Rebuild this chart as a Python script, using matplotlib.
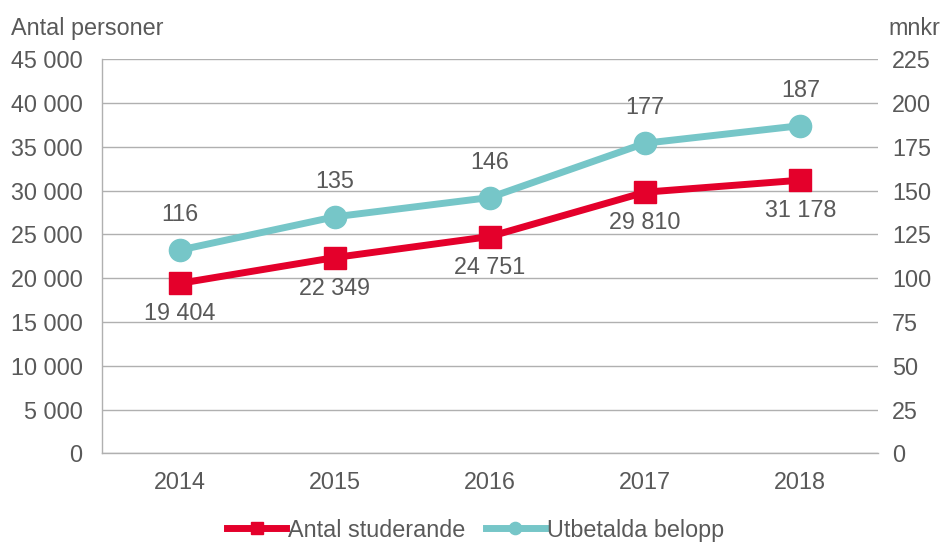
import matplotlib.pyplot as plt
from matplotlib.ticker import FuncFormatter

# Data
years = ['2014', '2015', '2016', '2017', '2018']
students = [19404, 22349, 24751, 29810, 31178]
paid_mnkr = [116, 135, 146, 177, 187]

RED = '#E4002B'
TEAL = '#76C6C8'
TEXT = '#595959'
GRID = '#B0B0B0'

plt.rcParams['font.family'] = ['Liberation Sans', 'DejaVu Sans']
FS = 16.8


def space_thousands(v, pos=None):
    return f'{int(v):,}'.replace(',', ' ')


fig = plt.figure(figsize=(9.42, 5.42), dpi=100)
ax = fig.add_axes([0.1083, 0.1635, 0.8237, 0.7275])
ax2 = ax.twinx()

x = range(len(years))

# Left axis: students
ax.set_ylim(0, 45000)
ax.set_yticks(range(0, 45001, 5000))
ax.yaxis.set_major_formatter(FuncFormatter(space_thousands))
ax.set_xlim(-0.5, len(years) - 0.5)
ax.set_xticks(list(x))
ax.set_xticklabels(years)
ax.grid(axis='y', color=GRID, linewidth=1)
ax.set_axisbelow(True)
for side in ['top', 'right']:
    ax.spines[side].set_visible(False)
for side in ['left', 'bottom']:
    ax.spines[side].set_color(GRID)
    ax.spines[side].set_linewidth(1)
ax.tick_params(axis='both', length=0, labelsize=FS, colors=TEXT)
ax.tick_params(axis='y', pad=14)
ax.tick_params(axis='x', pad=13)

# Right axis: mnkr
ax2.set_ylim(0, 225)
ax2.set_yticks(range(0, 226, 25))
for side in ['top', 'right', 'left', 'bottom']:
    ax2.spines[side].set_visible(False)
ax2.tick_params(axis='y', length=0, labelsize=FS, colors=TEXT, pad=10)

# Lines (red drawn on ax, teal on ax2)
l1, = ax.plot(x, students, color=RED, linewidth=5, marker='s', markersize=16,
              label='Antal studerande')
l2, = ax2.plot(x, paid_mnkr, color=TEAL, linewidth=5, marker='o', markersize=16,
               label='Utbetalda belopp')

for xi, v in zip(x, students):
    ax.annotate(space_thousands(v), (xi, v), xytext=(0, -22), textcoords='offset points',
                ha='center', va='center', fontsize=FS, color=TEXT)
for xi, v in zip(x, paid_mnkr):
    ax2.annotate(str(v), (xi, v), xytext=(0, 25.5), textcoords='offset points',
                 ha='center', va='center', fontsize=FS, color=TEXT)

# Axis titles
fig.text(0.012, 0.948, 'Antal personer', fontsize=FS, color=TEXT, ha='left', va='center')
fig.text(0.998, 0.948, 'mnkr', fontsize=FS, color=TEXT, ha='right', va='center')

# Legend
fig.legend([l1, l2], ['Antal studerande', 'Utbetalda belopp'], loc='center',
           bbox_to_anchor=(0.505, 0.022), ncol=2, frameon=False, fontsize=FS,
           labelcolor=TEXT, handlelength=2.5, handletextpad=0.1, columnspacing=0.9,
           markerscale=0.55)

fig.savefig('out.png', dpi=100)
